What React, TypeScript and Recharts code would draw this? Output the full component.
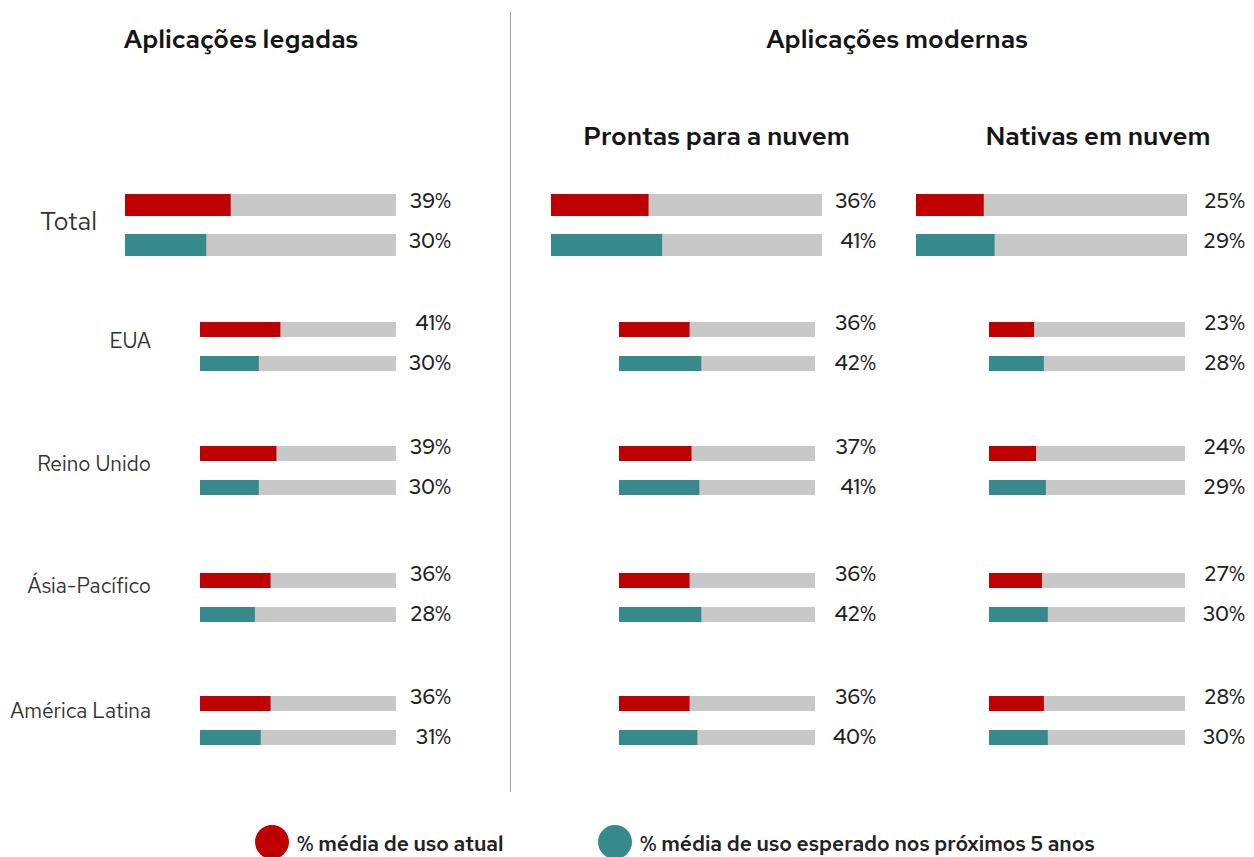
import { BarChart, Bar, XAxis, YAxis, Cell, LabelList } from "recharts";

const regions = ["Total", "EUA", "Reino Unido", "Ásia-Pacífico", "América Latina"];
const seriesNames = ["% média de uso atual", "% média de uso esperado nos próximos 5 anos"];

const legadasAtual = [39, 41, 39, 36, 36];
const legadasEsperado = [30, 30, 30, 28, 31];
const prontasAtual = [36, 36, 37, 36, 36];
const prontasEsperado = [41, 42, 41, 42, 40];
const nativasAtual = [25, 23, 24, 27, 28];
const nativasEsperado = [29, 28, 29, 30, 30];

const RED = "#be0000";
const TEAL = "#378a8b";
const TRACK = "#c8c8c8";
const FONT = "'Red Hat Text', 'Open Sans', sans-serif";

// layout of the three panels (pixels)
const rowTops = [194, 321, 445, 572, 695];
const columns = [
  { atual: legadasAtual, esperado: legadasEsperado, bigLeft: 125, smallLeft: 200, labelRight: 451 },
  { atual: prontasAtual, esperado: prontasEsperado, bigLeft: 551, smallLeft: 619, labelRight: 876 },
  { atual: nativasAtual, esperado: nativasEsperado, bigLeft: 916, smallLeft: 989, labelRight: 1245 },
];

const PAD = 12; // room above/below the bars so the labels are not clipped

type CellProps = {
  atual: number;
  esperado: number;
  left: number;
  top: number;
  trackWidth: number;
  labelRight: number;
  barSize: number;
  gap: number;
  big: boolean;
};

function BarCell({ atual, esperado, left, top, trackWidth, labelRight, barSize, gap, big }: CellProps) {
  const data = [
    { serie: "atual", valor: atual },
    { serie: "esperado", valor: esperado },
  ];
  const width = labelRight - left + 4;
  const height = 2 * barSize + 2 * gap + 2 * PAD;
  const labelX = labelRight - left;

  const renderLabel = (p: any) => {
    const first = p.index !== undefined ? p.index === 0 : p.y < height / 2;
    const shift = big ? 3 : first ? 0.5 : 6;
    return (
      <text
        x={labelX}
        y={p.y + p.height / 2 + shift}
        textAnchor="end"
        fontSize={21}
        fontWeight={500}
        fill="#222"
        fontFamily={FONT}
      >
        {`${p.value}%`}
      </text>
    );
  };

  return (
    <div style={{ position: "absolute", left, top: top - gap / 2 - PAD, width, height }}>
      <BarChart
        layout="vertical"
        width={width}
        height={height}
        data={data}
        margin={{ top: PAD, right: width - trackWidth, bottom: PAD, left: 0 }}
        barCategoryGap={0}
      >
        <XAxis type="number" domain={[0, 100]} hide />
        <YAxis type="category" dataKey="serie" hide />
        <Bar dataKey="valor" barSize={barSize} background={{ fill: TRACK }} isAnimationActive={false}>
          {data.map((d, i) => (
            <Cell key={d.serie} fill={i === 0 ? RED : TEAL} />
          ))}
          <LabelList dataKey="valor" content={renderLabel} />
        </Bar>
      </BarChart>
    </div>
  );
}

export default function App() {
  const labelBaselines = [230, 348, 471, 593, 718];

  return (
    <div
      style={{
        position: "absolute",
        left: 0,
        top: 0,
        width: 1254,
        height: 857,
        background: "#fff",
        overflow: "hidden",
        fontFamily: FONT,
      }}
    >
      {columns.map((col, c) =>
        regions.map((r, i) => {
          const big = i === 0;
          return (
            <BarCell
              key={`${c}-${r}`}
              atual={col.atual[i]}
              esperado={col.esperado[i]}
              left={big ? col.bigLeft : col.smallLeft}
              top={rowTops[i]}
              trackWidth={big ? 271 : 196}
              labelRight={col.labelRight}
              barSize={big ? 22 : 15}
              gap={big ? 18 : 19}
              big={big}
            />
          );
        })
      )}

      <svg
        width={1254}
        height={857}
        style={{ position: "absolute", left: 0, top: 0, pointerEvents: "none" }}
        fontFamily={FONT}
      >
        <line x1={510.5} x2={510.5} y1={12} y2={792} stroke="#a0a0a0" strokeWidth={1} />

        <text x={241} y={48} textAnchor="middle" fontSize={26} fontWeight={600} fill="#151515">
          Aplicações legadas
        </text>
        <text x={897} y={48} textAnchor="middle" fontSize={26} fontWeight={600} fill="#151515">
          Aplicações modernas
        </text>
        <text x={716.5} y={145} textAnchor="middle" fontSize={26} fontWeight={600} fill="#151515">
          Prontas para a nuvem
        </text>
        <text x={1098} y={145} textAnchor="middle" fontSize={26} fontWeight={600} fill="#151515">
          Nativas em nuvem
        </text>

        {regions.map((r, i) =>
          i === 0 ? (
            <text key={r} x={40} y={labelBaselines[i]} fontSize={26} fill="#333">
              {r}
            </text>
          ) : (
            <text key={r} x={151} y={labelBaselines[i]} textAnchor="end" fontSize={21} fill="#333">
              {r}
            </text>
          )
        )}

        <circle cx={272} cy={842} r={17} fill={RED} />
        <text x={297} y={851} fontSize={21} fontWeight={600} fill="#222">
          {seriesNames[0]}
        </text>
        <circle cx={615} cy={842} r={17} fill={TEAL} />
        <text x={640} y={851} fontSize={21} fontWeight={600} fill="#222">
          {seriesNames[1]}
        </text>
      </svg>
    </div>
  );
}
